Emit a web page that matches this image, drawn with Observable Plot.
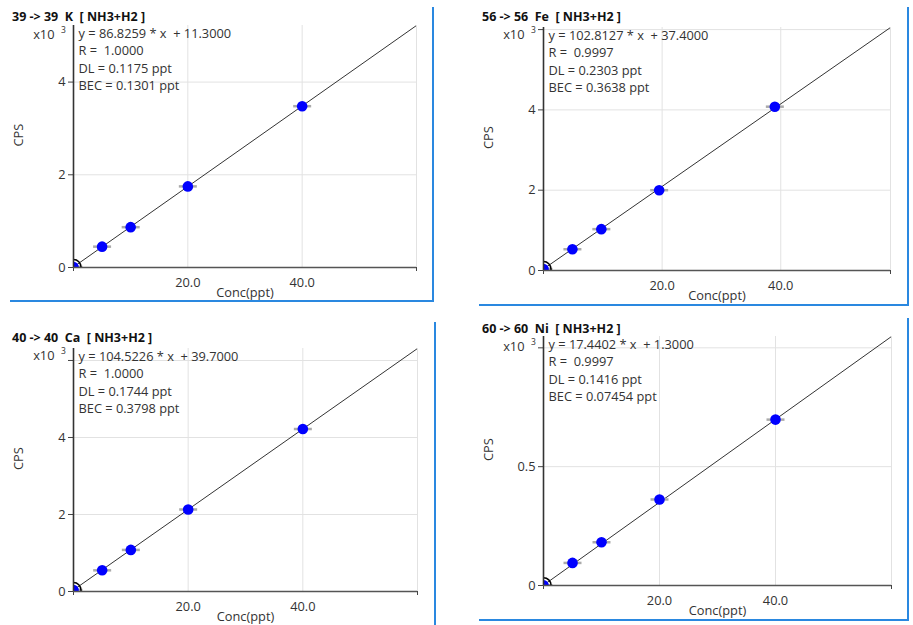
<!DOCTYPE html>
<html><head><meta charset="utf-8">
<script src="https://cdn.jsdelivr.net/npm/d3@7"></script>
<script src="https://cdn.jsdelivr.net/npm/@observablehq/plot@0.6"></script>
<style>
body{margin:0;background:#fff;}
#wrap{position:relative;width:913px;height:625px;overflow:hidden;font-family:"Open Sans",sans-serif;background:#fff;}
.title{position:absolute;font-weight:700;font-size:12.5px;line-height:11px;white-space:pre;color:#111;}
.panel{position:absolute;}
.bl{position:absolute;background:#2a88e0;}
</style></head><body><div id="wrap"></div>
<script>
// ---- data ----
const panelTitles = ["39 -> 39  K  [ NH3+H2 ]", "56 -> 56  Fe  [ NH3+H2 ]", "40 -> 40  Ca  [ NH3+H2 ]", "60 -> 60  Ni  [ NH3+H2 ]"];
const concK  = [0, 5, 10, 20, 40];
const cpsK   = [0.011, 0.45, 0.87, 1.75, 3.48];      // x10^3
const concFe = [0, 4.875, 9.75, 19.5, 39];
const cpsFe  = [0.037, 0.53, 1.03, 2.0, 4.08];
const concCa = [0, 5, 10, 20, 40];
const cpsCa  = [0.04, 0.55, 1.08, 2.13, 4.22];
const concNi = [0, 5, 10, 20, 40];
const cpsNi  = [0.0013, 0.095, 0.182, 0.362, 0.698];
const slopes     = [86.8259, 102.8127, 104.5226, 17.4402];
const intercepts = [11.3, 37.4, 39.7, 1.3];
const rValues    = ["1.0000", "0.9997", "1.0000", "0.9997"];
const dlValues   = ["0.1175", "0.2303", "0.1744", "0.1416"];
const becValues  = ["0.1301", "0.3638", "0.3798", "0.07454"];
const xMaxes     = [60, 58.5, 60, 60];
const yTickVals  = [[0, 2, 4], [0, 2, 4, 6], [0, 2, 4, 6], [0, 0.5, 1.0]];
const xTickVals  = [20, 40];
const xLabel = "Conc(ppt)";
const yLabel = "CPS";

const concs = [concK, concFe, concCa, concNi];
const cpss  = [cpsK, cpsFe, cpsCa, cpsNi];

// ---- layout ----
const layout = [
  {left:0,   top:0,   w:434, h:300, ml:73, mr:18, mt:25, mb:33, tl:12,  tt:10.5,  x10dy:4},
  {left:450, top:0,   w:460, h:305, ml:93, mr:20, mt:27, mb:35, tl:482, tt:10.5,  x10dy:2},
  {left:0,   top:320, w:434, h:305, ml:73, mr:17, mt:28, mb:34, tl:12,  tt:331.5, x10dy:2},
  {left:450, top:310, w:460, h:312, ml:93, mr:19, mt:26, mb:37, tl:482, tt:322.5, x10dy:5}
];
const blueLines = [
  [432, 7, 2, 295], [10, 300, 424, 2],
  [907, 7, 2, 299], [479, 304, 430, 2],
  [434, 322, 2, 303],
  [907, 318, 2, 303], [479, 619, 430, 2]
];

const wrap = document.getElementById("wrap");
const FONT = "'Open Sans', sans-serif";
const FS = 12.8;

const errSym = { draw(ctx) { ctx.moveTo(-9, 0); ctx.lineTo(9, 0); } };

function makePanel(i) {
  const L = layout[i];
  const pts = concs[i].map((c, j) => ({x: c, y: cpss[i][j]}));
  const xMax = xMaxes[i];
  const fit = x => (slopes[i] * x + intercepts[i]) / 1000;
  const yMax = fit(xMax);
  const linePts = [0, xMax].map(x => ({x, y: fit(x)}));
  const ticks = yTickVals[i];
  const fmt = t => (t >= 0.9 * yMax) ? "" : (t === 0 ? "0" : (Number.isInteger(t) ? String(t) : t.toFixed(1)));
  const eq = `y = ${slopes[i].toFixed(4)} * x  + ${intercepts[i].toFixed(4)}\nR =  ${rValues[i]}\nDL = ${dlValues[i]} ppt\nBEC = ${becValues[i]} ppt`;
  return Plot.plot({
    width: L.w, height: L.h,
    marginLeft: L.ml, marginRight: L.mr, marginTop: L.mt, marginBottom: L.mb,
    x: {domain: [0, xMax], axis: null},
    y: {domain: [0, yMax], axis: null},
    style: {fontFamily: FONT, fontSize: FS + "px", color: "#333", whiteSpace: "pre", overflow: "visible", background: "transparent"},
    marks: [
      Plot.ruleX(xTickVals, {stroke: "#e2e2e2", strokeWidth: 1}),
      Plot.ruleX([xMax], {stroke: "#e2e2e2", strokeWidth: 1}),
      Plot.ruleY(ticks.filter(t => t > 0), {stroke: "#e2e2e2", strokeWidth: 1}),
      Plot.line(linePts, {x: "x", y: "y", stroke: "#333", strokeWidth: 1, clip: true}),
      Plot.dot(pts, {x: "x", y: "y", symbol: errSym, stroke: "#aaa", strokeWidth: 2.5, clip: true}),
      Plot.dot(pts, {x: "x", y: "y", r: 5.3, fill: "#0000ff", stroke: "none", clip: true}),
      Plot.dot(pts.slice(0, 1), {x: "x", y: "y", r: 7.5, fill: "none", stroke: "#000", strokeWidth: 1.5, clip: true}),
      Plot.axisY(ticks, {tickFormat: fmt, tickSize: 5, tickPadding: 3, label: null, stroke: "#444", fill: "#333", fontSize: FS}),
      Plot.axisX(xTickVals, {tickFormat: d => d.toFixed(1), tickSize: 0, tickPadding: 10, label: null, fill: "#333", fontSize: FS}),
      Plot.axisX([0, xMax], {tickFormat: () => "", tickSize: 4, label: null, stroke: "#444"}),
      Plot.ruleX([0], {stroke: "#333", strokeWidth: 1.6}),
      Plot.ruleY([0], {stroke: "#555", strokeWidth: 1.6}),
      Plot.text([eq], {text: d => d, frameAnchor: "top-left", dx: 5, dy: 0, textAnchor: "start", lineAnchor: "top", lineHeight: 1.36, fill: "#333", fontSize: FS}),
      Plot.text(["x10"], {text: d => d, frameAnchor: "top-left", dx: -19, dy: L.x10dy, textAnchor: "end", fill: "#333", fontSize: FS}),
      Plot.text(["3"], {text: d => d, frameAnchor: "top-left", dx: -10, dy: L.x10dy - 2.5, textAnchor: "middle", fill: "#333", fontSize: 8.5}),
      Plot.text([xLabel], {text: d => d, frameAnchor: "bottom", dy: 29.5, fill: "#333", fontSize: FS}),
      Plot.text([yLabel], {text: d => d, frameAnchor: "left", dx: -55, rotate: -90, fill: "#333", fontSize: FS})
    ]
  });
}

for (let i = 0; i < 4; i++) {
  const L = layout[i];
  const div = document.createElement("div");
  div.className = "panel";
  div.style.left = L.left + "px";
  div.style.top = L.top + "px";
  div.appendChild(makePanel(i));
  wrap.appendChild(div);
  const t = document.createElement("div");
  t.className = "title";
  t.style.left = L.tl + "px";
  t.style.top = L.tt + "px";
  t.textContent = panelTitles[i];
  wrap.appendChild(t);
}
for (const [x, y, w, h] of blueLines) {
  const b = document.createElement("div");
  b.className = "bl";
  Object.assign(b.style, {left: x + "px", top: y + "px", width: w + "px", height: h + "px"});
  wrap.appendChild(b);
}
</script>
</body></html>
